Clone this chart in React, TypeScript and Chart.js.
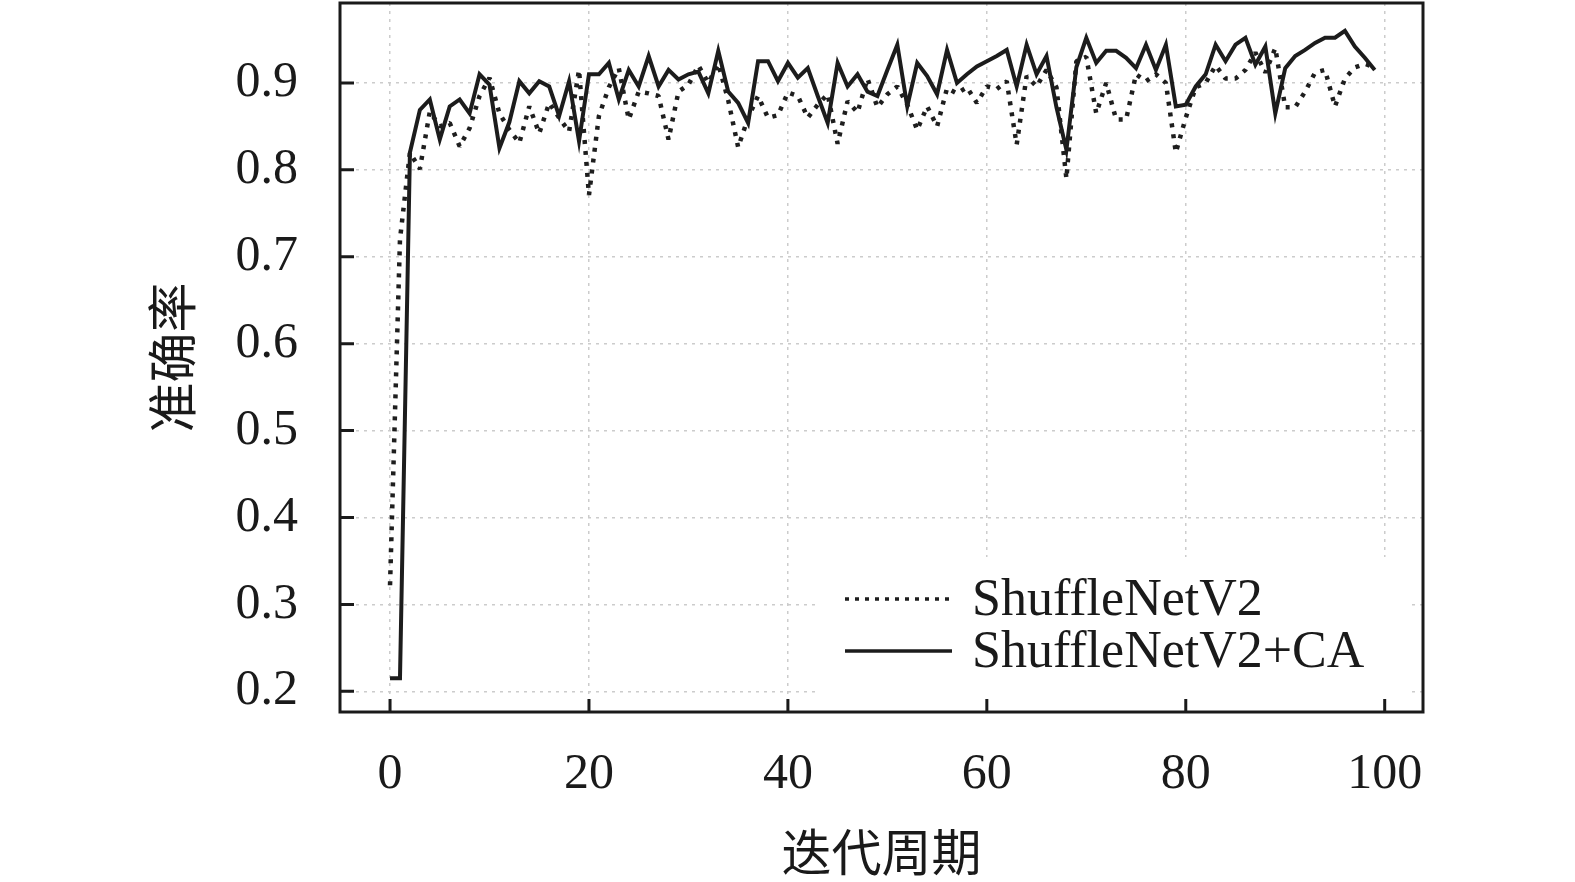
import { useEffect, useRef } from "react"
import { Chart, registerables } from "chart.js"

Chart.register(...registerables)

// Tick values for both axes
const Y_TICKS = [0.2, 0.3, 0.4, 0.5, 0.6, 0.7, 0.8, 0.9]
const X_TICKS = [0, 20, 40, 60, 80, 100]

const SERIES_LABELS = ["ShuffleNetV2", "ShuffleNetV2+CA"]

// Accuracy per epoch (index = epoch)
const BASELINE = [
  0.322, 0.72, 0.82, 0.801, 0.867, 0.85, 0.854, 0.827, 0.848, 0.885,
  0.906, 0.865, 0.846, 0.831, 0.873, 0.842, 0.877, 0.86, 0.844, 0.915,
  0.771, 0.862, 0.895, 0.917, 0.858, 0.89, 0.888, 0.885, 0.835, 0.89,
  0.898, 0.92, 0.9, 0.922, 0.88, 0.826, 0.86, 0.885, 0.86, 0.863,
  0.889, 0.885, 0.86, 0.875, 0.887, 0.83, 0.879, 0.866, 0.905, 0.872,
  0.887, 0.896, 0.875, 0.846, 0.873, 0.85, 0.894, 0.888, 0.895, 0.877,
  0.896, 0.893, 0.902, 0.829, 0.908, 0.896, 0.915, 0.895, 0.79, 0.925,
  0.93, 0.865, 0.9, 0.858, 0.858, 0.91, 0.902, 0.91, 0.9, 0.82,
  0.86, 0.895, 0.9, 0.92, 0.905, 0.905, 0.915, 0.935, 0.912, 0.94,
  0.872, 0.872, 0.89, 0.912, 0.915, 0.873, 0.905, 0.918, 0.922, 0.918,
]

const WITH_CA = [
  0.215, 0.215, 0.82, 0.869, 0.881, 0.835, 0.873, 0.881, 0.865, 0.91,
  0.898, 0.825, 0.855, 0.902, 0.888, 0.902, 0.896, 0.862, 0.902, 0.833,
  0.91, 0.91, 0.923, 0.881, 0.915, 0.896, 0.931, 0.896, 0.915, 0.904,
  0.91, 0.913, 0.888, 0.937, 0.89, 0.877, 0.854, 0.925, 0.925, 0.902,
  0.923, 0.906, 0.917, 0.885, 0.854, 0.923, 0.896, 0.91, 0.89, 0.885,
  0.915, 0.944, 0.873, 0.923, 0.908, 0.887, 0.938, 0.9, 0.91, 0.919,
  0.925, 0.931, 0.938, 0.896, 0.944, 0.91, 0.931, 0.872, 0.823, 0.918,
  0.952, 0.923, 0.937, 0.937, 0.929, 0.917, 0.944, 0.915, 0.944, 0.873,
  0.875, 0.896, 0.91, 0.944, 0.925, 0.944, 0.952, 0.921, 0.942, 0.865,
  0.917, 0.931, 0.938, 0.946, 0.952, 0.952, 0.96, 0.942, 0.929, 0.915,
]

const SERIF = "'Times New Roman', 'Liberation Serif', serif"
const CJK = "'Noto Sans CJK SC', sans-serif"
const INK = "#1a1a1a"

// White legend box sitting in the lower right of the plot
const insetLegend = {
  id: "insetLegend",
  afterDatasetsDraw(chart: any) {
    const { ctx, chartArea } = chart
    const left = 818
    const top = 557
    const right = 1408
    const bottom = chartArea.bottom - 2
    ctx.save()
    ctx.fillStyle = "#ffffff"
    ctx.fillRect(left, top, right - left, bottom - top)
    chart.data.datasets.forEach((ds: any, i: number) => {
      const y = top + 42 + i * 52
      ctx.beginPath()
      ctx.setLineDash(i === 0 ? [4, 6] : [])
      ctx.lineCap = "butt"
      ctx.lineWidth = 3.5
      ctx.strokeStyle = ds.borderColor
      ctx.moveTo(845, y)
      ctx.lineTo(952, y)
      ctx.stroke()
      ctx.setLineDash([])
      ctx.fillStyle = INK
      ctx.font = `52px ${SERIF}`
      ctx.textBaseline = "alphabetic"
      ctx.textAlign = "left"
      ctx.fillText(ds.label, 972, y + 16)
    })
    ctx.restore()
  },
}

// Box frame and inward tick marks
const frameTicks = {
  id: "frameTicks",
  afterDraw(chart: any) {
    const { ctx, chartArea: a, scales } = chart
    ctx.save()
    ctx.strokeStyle = INK
    ctx.lineWidth = 3
    ctx.setLineDash([])
    ctx.beginPath()
    Y_TICKS.forEach((v) => {
      const y = scales.y.getPixelForValue(v)
      ctx.moveTo(a.left, y)
      ctx.lineTo(a.left + 14, y)
    })
    X_TICKS.forEach((v) => {
      const x = scales.x.getPixelForValue(v)
      ctx.moveTo(x, a.bottom)
      ctx.lineTo(x, a.bottom - 13)
    })
    ctx.stroke()
    ctx.strokeRect(a.left, a.top, a.right - a.left, a.bottom - a.top)
    ctx.restore()
  },
}

const noScalePadding = (s: any) => {
  s.paddingTop = 0
  s.paddingBottom = 0
  s.paddingLeft = 0
  s.paddingRight = 0
}

export default function App() {
  const chartRef = useRef<HTMLCanvasElement>(null)

  useEffect(() => {
    if (!chartRef.current) return

    const chart = new Chart(chartRef.current, {
      type: "line",
      data: {
        datasets: [
          {
            label: SERIES_LABELS[0],
            data: BASELINE.map((y, i) => ({ x: i, y })),
            borderColor: "#1e1e1e",
            borderWidth: 4.5,
            borderDash: [4, 7],
            borderCapStyle: "butt",
            borderJoinStyle: "bevel",
            pointRadius: 0,
            tension: 0,
            fill: false,
          },
          {
            label: SERIES_LABELS[1],
            data: WITH_CA.map((y, i) => ({ x: i, y })),
            borderColor: "#1c1c1c",
            borderWidth: 4,
            pointRadius: 0,
            tension: 0,
            fill: false,
          },
        ],
      },
      options: {
        responsive: true,
        maintainAspectRatio: false,
        animation: false,
        layout: { padding: { left: 0, top: 3, right: 152, bottom: 0 } },
        plugins: {
          legend: { display: false },
          tooltip: { enabled: false },
        },
        scales: {
          x: {
            type: "linear",
            min: -5.03,
            max: 103.85,
            afterBuildTicks: (s: any) => {
              s.ticks = X_TICKS.map((value) => ({ value }))
            },
            afterFit: (s: any) => {
              s.height = 170
              noScalePadding(s)
            },
            grid: { color: "#cccccc", lineWidth: 1.5, drawTicks: false },
            border: { display: false, dash: [3, 5] },
            ticks: {
              color: INK,
              font: { family: SERIF, size: 50 },
              padding: 33,
              maxRotation: 0,
              autoSkip: false,
              callback: (v: any) => String(v),
            },
            title: {
              display: true,
              text: "迭代周期",
              color: INK,
              font: { family: CJK, size: 50 },
              padding: { top: 0, bottom: 0 },
            },
          },
          y: {
            type: "linear",
            min: 0.1762,
            max: 0.992,
            afterBuildTicks: (s: any) => {
              s.ticks = Y_TICKS.map((value) => ({ value }))
            },
            afterFit: (s: any) => {
              s.width = 340
              noScalePadding(s)
            },
            grid: { color: "#cccccc", lineWidth: 1.5, drawTicks: false },
            border: { display: false, dash: [3, 5] },
            ticks: {
              color: INK,
              font: { family: SERIF, size: 50 },
              padding: 42,
              autoSkip: false,
              callback: (v: any) => Number(v).toFixed(1),
            },
            title: {
              display: true,
              text: "准确率",
              color: INK,
              font: { family: CJK, size: 50 },
              padding: { top: 142, bottom: 0 },
            },
          },
        },
      },
      plugins: [insetLegend, frameTicks],
    })

    return () => {
      chart.destroy()
    }
  }, [])

  return (
    <div style={{ position: "absolute", left: 0, top: 0, width: 1575, height: 882, background: "#ffffff" }}>
      <canvas ref={chartRef} />
    </div>
  )
}
